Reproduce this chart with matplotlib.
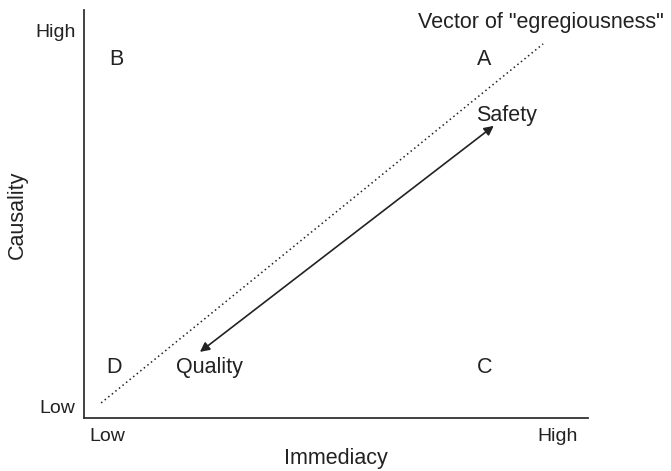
import matplotlib.pyplot as plt

plt.rcParams['font.family'] = ['Liberation Sans', 'DejaVu Sans']

# Quadrant letters and their positions (0-10 scale on both axes)
quadrants = ['A', 'B', 'C', 'D']
quad_x = [7.8, 0.5, 7.8, 0.45]
quad_y = [8.78, 8.78, 1.25, 1.25]

# Vector of "egregiousness" (dotted line ends)
vector_x = [0.34, 9.11]
vector_y = [0.37, 9.17]

# Quality <-> Safety arrow ends
arrow_start = (2.3, 1.62)
arrow_end = (8.13, 7.16)

# Tick labels
x_tick_pos = [0.1, 9.8]
x_tick_labels = ['Low', 'High']
y_tick_pos = [0.27, 9.49]
y_tick_labels = ['Low', 'High']

fig = plt.figure(figsize=(6.71, 4.71), dpi=100)
ax = fig.add_axes([0.1252, 0.1125, 0.7511, 0.8663])
ax.set_xlim(0, 10)
ax.set_ylim(0, 10)

ink = '#222222'

# dotted vector line
ax.plot(vector_x, vector_y, linestyle=(0, (1, 2)), color=ink, linewidth=1.1)

# double headed arrow
ax.annotate('', xy=arrow_end, xytext=arrow_start,
            arrowprops=dict(arrowstyle='<|-|>', color=ink, lw=1.2,
                            mutation_scale=14, shrinkA=0, shrinkB=0))

for q, x, y in zip(quadrants, quad_x, quad_y):
    ax.text(x, y, q, fontsize=15.5, color=ink, ha='left', va='center')

ax.text(2.48, 1.25, 'Quality', fontsize=15.5, color=ink, ha='center', va='center')
ax.text(8.39, 7.42, 'Safety', fontsize=15.5, color=ink, ha='center', va='center')
ax.text(6.63, 9.7, 'Vector of "egregiousness"', fontsize=15.5, color=ink,
        ha='left', va='center')

# axes styling
for side in ['top', 'right']:
    ax.spines[side].set_visible(False)
for side in ['left', 'bottom']:
    ax.spines[side].set_color('#333333')
    ax.spines[side].set_linewidth(1.3)

ax.set_xticks(x_tick_pos)
ax.set_xticklabels(x_tick_labels, fontsize=14, color=ink)
ax.set_yticks(y_tick_pos)
ax.set_yticklabels(y_tick_labels, fontsize=14, color=ink)
ax.tick_params(axis='x', length=0, pad=7)
ax.tick_params(axis='y', length=0, pad=6)
xl = ax.get_xticklabels()
xl[0].set_ha('left')
xl[1].set_ha('right')

ax.set_xlabel('Immediacy', fontsize=15.5, color=ink, va='center')
ax.xaxis.set_label_coords(0.5, -0.1)
ax.set_ylabel('Causality', fontsize=15.5, color=ink, va='center')
ax.yaxis.set_label_coords(-0.133, 0.4975)

fig.savefig('out.png', dpi=100)
